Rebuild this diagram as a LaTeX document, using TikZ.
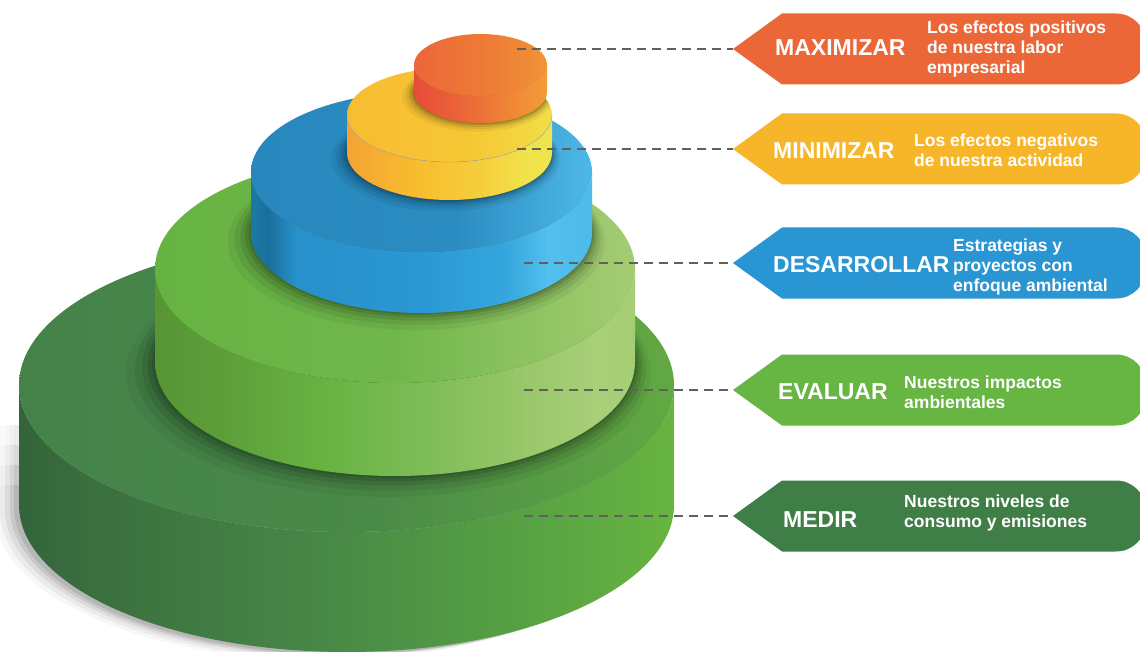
\documentclass[tikz,border=0pt]{standalone}
\usepackage{fontspec}
\setmainfont{Liberation Sans}
% colours
\definecolor{boxor}{HTML}{EB6737}
\definecolor{boxyl}{HTML}{F7B52A}
\definecolor{boxbl}{HTML}{2995D3}
\definecolor{boxlg}{HTML}{67B543}
\definecolor{boxdg}{HTML}{3F7F47}
\definecolor{dashgray}{HTML}{606060}
% dark green
\definecolor{dgA}{HTML}{33643A}\definecolor{dgB}{HTML}{3A6E3E}\definecolor{dgC}{HTML}{478747}\definecolor{dgD}{HTML}{56A043}\definecolor{dgE}{HTML}{67B441}
\definecolor{dgtA}{HTML}{44824A}\definecolor{dgtB}{HTML}{4A8A48}\definecolor{dgtC}{HTML}{62A943}
% light green
\definecolor{lgA}{HTML}{579535}\definecolor{lgB}{HTML}{5E9F3A}\definecolor{lgC}{HTML}{66B342}\definecolor{lgD}{HTML}{7DBC56}\definecolor{lgE}{HTML}{9CC86C}\definecolor{lgF}{HTML}{A9CF79}\definecolor{lgG}{HTML}{A5CE74}
\definecolor{lgtA}{HTML}{66B342}\definecolor{lgtB}{HTML}{70B74B}\definecolor{lgtC}{HTML}{A5CC73}
% blue
\definecolor{blA}{HTML}{1B79A6}\definecolor{blB}{HTML}{1A6F9C}\definecolor{blC}{HTML}{2890CA}\definecolor{blD}{HTML}{2A98D4}\definecolor{blE}{HTML}{35A7DD}\definecolor{blF}{HTML}{52BFEE}\definecolor{blG}{HTML}{4DBBEA}
\definecolor{bltA}{HTML}{2888BE}\definecolor{bltB}{HTML}{2B8CC2}\definecolor{bltC}{HTML}{4DB8E8}
% yellow
\definecolor{ylA}{HTML}{F4A333}\definecolor{ylB}{HTML}{F8BD2E}\definecolor{ylC}{HTML}{F5CE3C}\definecolor{ylD}{HTML}{F0E34B}\definecolor{ylE}{HTML}{EEE44D}
\definecolor{yltA}{HTML}{F8BC31}\definecolor{yltB}{HTML}{F6C735}\definecolor{yltC}{HTML}{F2DE46}
% orange
\definecolor{orA}{HTML}{E74B38}\definecolor{orB}{HTML}{EB6938}\definecolor{orC}{HTML}{F08D36}\definecolor{orD}{HTML}{F29B35}
\definecolor{ortA}{HTML}{EB6738}\definecolor{ortB}{HTML}{EE7D37}\definecolor{ortC}{HTML}{F09435}
% shadings (middle 25bp..75bp spans the path)
\pgfdeclarehorizontalshading{dgside}{100bp}{color(0bp)=(dgA); color(25bp)=(dgA); color(30bp)=(dgB); color(47.5bp)=(dgC); color(62.5bp)=(dgD); color(75bp)=(dgE); color(100bp)=(dgE)}
\pgfdeclarehorizontalshading{dgtop}{100bp}{color(0bp)=(dgtA); color(25bp)=(dgtA); color(52bp)=(dgtB); color(75bp)=(dgtC); color(100bp)=(dgtC)}
\pgfdeclarehorizontalshading{lgside}{100bp}{color(0bp)=(lgA); color(25bp)=(lgA); color(32.5bp)=(lgB); color(42.5bp)=(lgC); color(52.5bp)=(lgD); color(65bp)=(lgE); color(71bp)=(lgF); color(75bp)=(lgG); color(100bp)=(lgG)}
\pgfdeclarehorizontalshading{lgtop}{100bp}{color(0bp)=(lgtA); color(25bp)=(lgtA); color(50bp)=(lgtB); color(75bp)=(lgtC); color(100bp)=(lgtC)}
\pgfdeclarehorizontalshading{blside}{100bp}{color(0bp)=(blA); color(25bp)=(blA); color(27.5bp)=(blB); color(31.5bp)=(blC); color(50bp)=(blD); color(62.5bp)=(blE); color(68.5bp)=(blF); color(75bp)=(blG); color(100bp)=(blG)}
\pgfdeclarehorizontalshading{bltop}{100bp}{color(0bp)=(bltA); color(25bp)=(bltA); color(55bp)=(bltB); color(75bp)=(bltC); color(100bp)=(bltC)}
\pgfdeclarehorizontalshading{ylside}{100bp}{color(0bp)=(ylA); color(25bp)=(ylA); color(42.5bp)=(ylB); color(57.5bp)=(ylC); color(69bp)=(ylD); color(75bp)=(ylE); color(100bp)=(ylE)}
\pgfdeclarehorizontalshading{yltop}{100bp}{color(0bp)=(yltA); color(25bp)=(yltA); color(55bp)=(yltB); color(75bp)=(yltC); color(100bp)=(yltC)}
\pgfdeclarehorizontalshading{orside}{100bp}{color(0bp)=(orA); color(25bp)=(orA); color(45bp)=(orB); color(65bp)=(orC); color(75bp)=(orD); color(100bp)=(orD)}
\pgfdeclarehorizontalshading{ortop}{100bp}{color(0bp)=(ortA); color(25bp)=(ortA); color(55bp)=(ortB); color(75bp)=(ortC); color(100bp)=(ortC)}
% cylinder: #1 cx, #2 top y, #3 height, #4 rx, #5 ry, #6 side shading, #7 top shading
\newcommand\mycyl[7]{%
  \shade[shading=#6] (#1-#4,#2) -- ++(0,#3)
     arc[start angle=180,end angle=0,x radius=#4,y radius=#5]
     -- ++(0,-#3)
     arc[start angle=0,end angle=180,x radius=#4,y radius=#5] -- cycle;
  \shade[shading=#7] (#1,#2) ellipse[x radius=#4,y radius=#5];
}
% shadow of an upper cylinder on the top face of a lower one
% #1-#4 lower top ellipse (cx,ty,rx,ry); #5 cx, #6 bottom y, #7 rx, #8 ry of upper cylinder; #9 scale
\newcommand\myshadow[9]{%
  \begin{scope}
    \clip (#1,#2) ellipse[x radius=#3,y radius=#4];
    \foreach \s/\o in {1/0.05,0.7/0.07,0.45/0.09,0.25/0.11,0.1/0.12}{
      \fill[black,opacity=\o] (#5-0.3*#9*\s,#6+0.5*#9*\s) ellipse[x radius=#7+#9*\s,y radius=#8+0.45*#9*\s];
    }
  \end{scope}
}
% label box: #1 centre y, #2 colour, #3 name of tip coordinate
\newcommand\mybox[3]{%
  \fill[#2] (733,#1) -- (782,#1-35.5) -- (1116,#1-35.5)
     arc[start angle=270,end angle=360,radius=30] -- (1146,#1+5.5)
     arc[start angle=0,end angle=90,radius=30] -- (782,#1+35.5) -- cycle;
  \coordinate (#3) at (733,#1);
}
\tikzset{
  dashline/.style={dashgray,line width=1.3pt,dash pattern=on 9pt off 6pt},
  ttl/.style={text=white,inner sep=0pt,anchor=west,font=\bfseries\fontsize{23}{26}\selectfont},
  dsc/.style={text=white,inner sep=0pt,anchor=west,align=left,font=\bfseries\fontsize{17.5}{20}\selectfont}
}
\begin{document}
\begin{tikzpicture}[x=1pt,y=-1pt]
\useasboundingbox (0,0) rectangle (1140,652);
\clip (0,0) rectangle (1140,652);
\fill[white] (0,0) rectangle (1140,652);
% soft drop shadow of the base (fading upwards)
\foreach \cy in {425,445,465,485}{
\begin{scope}
  \clip (0,\cy) rectangle (700,652);
  \foreach \dx/\dy/\o in {-24/8/0.008,-19/6/0.012,-14/4/0.015,-9/3/0.018,-5/2/0.02}{
    \fill[black,opacity=\o] (19+\dx,385+\dy) arc[start angle=180,end angle=360,x radius=327.5,y radius=147]
       -- ++(0,120) arc[start angle=0,end angle=180,x radius=327.5,y radius=147] -- cycle;
  }
\end{scope}
}
% cylinders
\mycyl{346.5}{385}{120}{327.5}{147}{dgside}{dgtop}
\myshadow{346.5}{385}{327.5}{147}{395}{362}{240}{114}{22}
\mycyl{395}{269}{93}{240}{114}{lgside}{lgtop}
\myshadow{395}{269}{240}{114}{421.5}{233}{170.5}{80}{18}
\mycyl{421.5}{172}{61}{170.5}{80}{blside}{bltop}
\myshadow{421.5}{172}{170.5}{80}{449.5}{153}{102.5}{47}{12}
\mycyl{449.5}{115}{38}{102.5}{47}{ylside}{yltop}
\draw[gray!70,line width=0.4pt] (347,115) arc[start angle=180,end angle=0,x radius=102.5,y radius=47];
\myshadow{449.5}{115}{102.5}{47}{480.5}{92}{66.5}{31}{9}
\mycyl{480.5}{65}{27}{66.5}{31}{orside}{ortop}
% label boxes
\mybox{49}{boxor}{t1}
\mybox{149}{boxyl}{t2}
\mybox{263}{boxbl}{t3}
\mybox{390}{boxlg}{t4}
\mybox{516}{boxdg}{t5}
% connectors
\coordinate (d1) at (517,49);
\coordinate (d2) at (517,149);
\coordinate (d3) at (524,263);
\coordinate (d4) at (524,390);
\coordinate (d5) at (524,516);
\draw[dashline] (d1) -- (t1);
\draw[dashline] (d2) -- (t2);
\draw[dashline] (d3) -- (t3);
\draw[dashline] (d4) -- (t4);
\draw[dashline] (d5) -- (t5);
% texts
\node[ttl] (ti1) at (775,48) {MAXIMIZAR};
\node[dsc] (de1) at (927,49) {Los efectos positivos\\de nuestra labor\\empresarial};
\node[ttl] (ti2) at (773,151) {MINIMIZAR};
\node[dsc] (de2) at (914,150) {Los efectos negativos\\de nuestra actividad};
\node[ttl] (ti3) at (773,265) {DESARROLLAR};
\node[dsc] (de3) at (953,267) {Estrategias y\\proyectos con\\enfoque ambiental};
\node[ttl] (ti4) at (778,392) {EVALUAR};
\node[dsc] (de4) at (904,392) {Nuestros impactos\\ambientales};
\node[ttl] (ti5) at (783,520) {MEDIR};
\node[dsc] (de5) at (904,513) {Nuestros niveles de\\consumo y emisiones};
\end{tikzpicture}
\end{document}
